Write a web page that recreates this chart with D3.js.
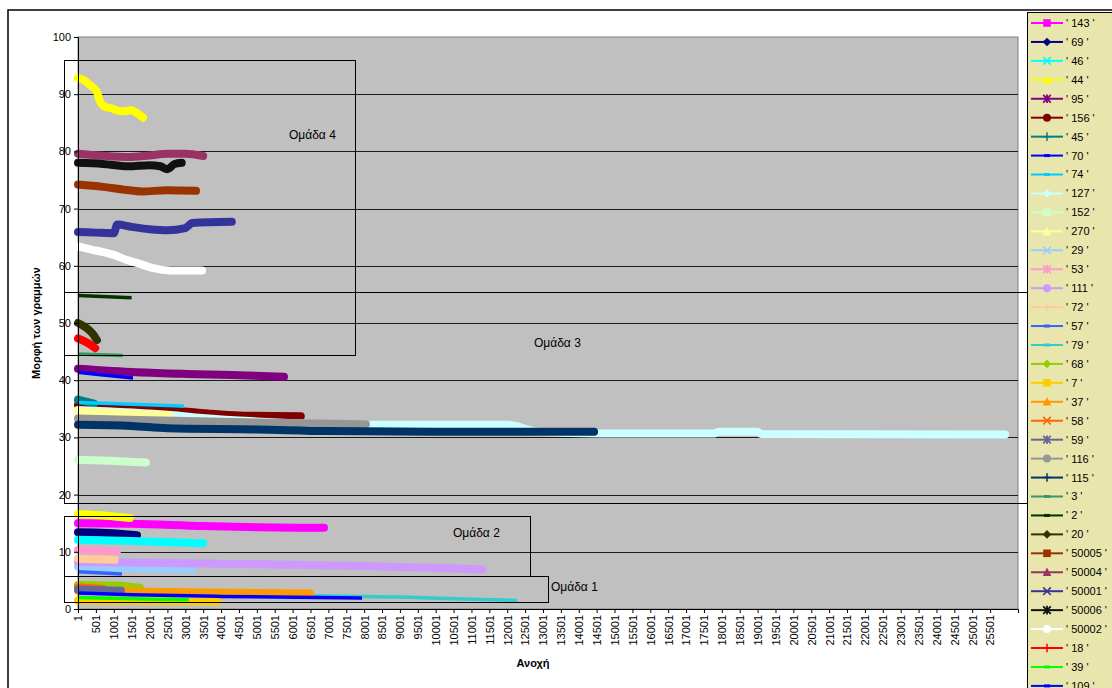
<!DOCTYPE html>
<html>
<head>
<meta charset="utf-8">
<script src="https://cdn.jsdelivr.net/npm/d3@7"></script>
<style>
  html, body { margin: 0; padding: 0; background: #fff; overflow: hidden; }
  svg { display: block; font-family: Arial, "Liberation Sans", sans-serif; }
</style>
</head>
<body>
<svg id="chart" width="1112" height="688"></svg>
<script>
// Series labels, in legend order
const seriesLabels = ["143","69","46","44","95","156","45","70","74","127","152","270",
  "29","53","111","72","57","79","68","7","37","58","59","116","115","3","2","20",
  "50005","50004","50001","50006","50002","18","39","109","110"];

// Each series: [tolerance, value] readings
const seriesValues = [
  [[1,15.0],[1500,14.9],[3500,14.5],[5000,14.3],[6880,14.2]],                       // 143
  [[1,13.4],[800,13.3],[1650,12.9]],                                                   // 69
  [[1,12.1],[1500,11.9],[3500,11.5]],                                                  // 46
  [[1,92.8],[150,92.5],[335,91.6],[531,90.4],[600,89.0],[755,87.8],[900,87.6],
   [1230,87.0],[1500,87.2],[1650,86.7],[1817,85.9]],                                   // 44
  [[1,42.0],[1635,41.4],[3020,41.1],[4300,40.9],[5760,40.6]],                          // 95
  [[1,35.7],[1635,35.1],[3240,34.4],[4000,34.0],[4640,33.8],[6230,33.7]],              // 156
  [[1,36.6],[450,35.9]],                                                               // 45
  [[1,41.4],[700,40.9],[1540,40.4]],                                                   // 70
  [[1,36.1],[1500,35.8],[2960,35.5]],                                                  // 74
  [[1,34.8],[2600,33.9],[3470,33.4],[5000,32.8],[8050,32.2],[12020,32.2],[12860,31.0],
   [14600,30.7],[17800,30.7],[17900,31.0],[19000,31.0],[19100,30.6],[25920,30.5]],     // 127
  [[1,26.1],[900,25.9],[1900,25.6]],                                                   // 152
  [[1,34.6],[1200,34.2],[2540,33.9]],                                                  // 270
  [[1,7.4],[3190,6.9]],                                                                // 29
  [[1,10.3],[1090,10.1]],                                                              // 53
  [[1,8.2],[2000,8.1],[5480,7.8],[8000,7.5],[10000,7.2],[11300,6.9]],                  // 111
  [[1,8.8],[1030,8.6]],                                                                // 72
  [[1,6.5],[1230,6.1]],                                                                // 57
  [[1,2.9],[3000,2.6],[6500,2.3],[9000,2.1],[10500,1.8],[12270,1.5]],                  // 79
  [[1,4.2],[1000,4.1],[1730,3.7]],                                                     // 68
  [[1,1.5],[2000,1.4],[3900,1.3]],                                                     // 7
  [[1,3.2],[2000,3.0],[3500,2.9],[6490,2.7]],                                          // 37
  [[1,3.8],[700,3.5]],                                                                 // 58
  [[1,3.4],[1200,3.2]],                                                                // 59
  [[1,33.3],[2000,33.0],[5000,32.6],[8050,32.3]],                                      // 116
  [[1,32.2],[1500,32.0],[2500,31.6],[5000,31.4],[7000,31.1],[10000,31.0],[14430,31.0]],// 115
  [[1,44.6],[1250,44.3]],                                                              // 3
  [[1,54.8],[1500,54.4]],                                                              // 2
  [[1,50.0],[200,49.3],[400,48.2],[530,47.0]],                                         // 20
  [[1,74.2],[700,73.8],[1300,73.3],[1800,73.0],[2500,73.2],[3300,73.1]],               // 50005
  [[1,79.6],[600,79.3],[1400,79.0],[2000,79.3],[2500,79.6],[3000,79.6],[3500,79.2]],   // 50004
  [[1,65.9],[500,65.8],[1000,65.7],[1100,67.2],[1500,66.8],[2000,66.4],[2500,66.2],
   [3000,66.6],[3200,67.5],[4300,67.7]],                                               // 50001
  [[1,78.0],[700,77.8],[1400,77.4],[2000,77.6],[2300,77.4],[2500,76.9],[2700,77.8],
   [2900,78.0]],                                                                       // 50006
  [[1,63.4],[400,62.8],[700,62.4],[1000,61.9],[1370,61.0],[1700,60.4],[2100,59.6],
   [2600,59.2],[3470,59.2]],                                                           // 50002
  [[1,47.3],[250,46.6],[480,45.6]],                                                    // 18
  [[1,2.0],[1500,1.8],[3100,1.6]],                                                     // 39
  [[1,2.8],[1500,2.5],[4000,2.2],[7940,1.9]],                                          // 109
  [[1,16.6],[800,16.3],[1450,15.9]]                                                    // 110
];

// Category tick labels on the tolerance axis
const xTickLabels = d3.range(1, 25502, 500);
const yTickLabels = d3.range(0, 101, 10);

// Group frames and their captions
const groupNames = ["Ομάδα 4", "Ομάδα 3", "Ομάδα 2", "Ομάδα 1"];

// Styling
const seriesColors = ["#FF00FF","#000080","#00FFFF","#FFFF00","#800080","#800000","#008080",
  "#0000FF","#00CCFF","#CCFFFF","#CCFFCC","#FFFF99","#99CCFF","#FF99CC","#CC99FF","#FFCC99",
  "#3366FF","#33CCCC","#99CC00","#FFCC00","#FF9900","#FF6600","#666699","#969696","#003366",
  "#339966","#003300","#333300","#993300","#993366","#333399","#111111","#FFFFFF","#FF0000",
  "#00FF00","#0000FF","#FFFF00"];
const seriesMarkers = ["square","diamond","x","triangle","star","circle","plus","dash","dash",
  "diamond","square","triangle","x","star","circle","plus","dash","dash","diamond","square",
  "triangle","x","star","circle","plus","dash","dash","diamond","square","triangle","x","star",
  "circle","plus","dash","dash","diamond"];

const svg = d3.select("#chart");
const plot = { left: 78, top: 37, right: 1018, bottom: 609 };

const x = d3.scaleLinear().domain([1, 26281]).range([plot.left, plot.right]);
const y = d3.scaleLinear().domain([0, 100]).range([plot.bottom, plot.top]);

// Outer chart frame
svg.append("rect").attr("x", 8).attr("y", 10).attr("width", 1120).attr("height", 700)
  .attr("fill", "#fff").attr("stroke", "#000").attr("stroke-width", 1.5);

// Plot area
svg.append("rect").attr("x", plot.left).attr("y", plot.top)
  .attr("width", plot.right - plot.left).attr("height", plot.bottom - plot.top)
  .attr("fill", "#C0C0C0").attr("stroke", "#808080").attr("stroke-width", 1);

// Horizontal gridlines
svg.append("g").selectAll("line").data(yTickLabels.filter(d => d > 0 && d < 100)).join("line")
  .attr("x1", plot.left).attr("x2", plot.right)
  .attr("y1", d => Math.round(y(d)) + 0.5).attr("y2", d => Math.round(y(d)) + 0.5)
  .attr("stroke", "#1a1a1a").attr("stroke-width", 1);

// Series lines
const line = d3.line().x(d => x(d[0])).y(d => y(d[1])).curve(d3.curveMonotoneX);
const lines = svg.append("g").attr("fill", "none");
seriesValues.forEach((vals, i) => {
  const thin = seriesMarkers[i] === "dash";
  lines.append("path")
    .attr("d", line(vals))
    .attr("stroke", seriesColors[i])
    .attr("stroke-width", thin ? 3.5 : 8)
    .attr("stroke-linecap", thin ? "butt" : "round")
    .attr("stroke-linejoin", "round");
});

// Axes
const yAxis = svg.append("g").attr("transform", `translate(${plot.left},0)`)
  .call(d3.axisLeft(y).tickValues(yTickLabels).tickSize(4).tickPadding(3));
const xAxis = svg.append("g").attr("transform", `translate(0,${plot.bottom})`)
  .call(d3.axisBottom(x).tickValues(xTickLabels).tickSize(4).tickFormat(d3.format("d")));
[yAxis, xAxis].forEach(g => {
  g.select(".domain").attr("stroke", "#000");
  g.selectAll(".tick line").attr("stroke", "#000");
  g.selectAll("text").attr("font-size", 11).attr("fill", "#000")
    .attr("font-family", "Arial, 'Liberation Sans', sans-serif");
});
xAxis.selectAll(".tick text")
  .attr("transform", "rotate(-90)")
  .attr("text-anchor", "end")
  .attr("x", -6).attr("y", 0).attr("dy", "0.35em");

// Axis titles
svg.append("text").attr("x", 533).attr("y", 667).attr("text-anchor", "middle")
  .attr("font-size", 11).attr("font-weight", "bold").text("Ανοχή");
svg.append("text").attr("transform", "translate(40,323) rotate(-90)").attr("text-anchor", "middle")
  .attr("font-size", 11).attr("font-weight", "bold").text("Μορφή των γραμμών");

// Group frames (value ranges in chart units)
const groupFrames = [
  { x0: -390, x1: 7745,  y0: 44.4, y1: 96.0, lx: 289,  ly: 139 },
  { x0: -390, x1: 26814, y0: 18.6, y1: 55.4, lx: 534,  ly: 347 },
  { x0: -390, x1: 12640, y0: 5.8,  y1: 16.3, lx: 453,  ly: 537 },
  { x0: -390, x1: 13140, y0: 1.2,  y1: 5.8,  lx: 551,  ly: 591 }
];
const frames = svg.append("g");
groupFrames.forEach((f, i) => {
  const px0 = Math.round(x(f.x0)) + 0.5, px1 = Math.round(x(f.x1)) + 0.5;
  const py0 = Math.round(y(f.y1)) + 0.5, py1 = Math.round(y(f.y0)) + 0.5;
  frames.append("rect").attr("x", px0).attr("y", py0)
    .attr("width", px1 - px0).attr("height", py1 - py0)
    .attr("fill", "none").attr("stroke", "#000").attr("stroke-width", 1);
  frames.append("text").attr("x", f.lx).attr("y", f.ly).attr("font-size", 12)
    .attr("fill", "#000").text(groupNames[i]);
});

// Legend
const legend = svg.append("g");
legend.append("rect").attr("x", 1027.5).attr("y", 12.5).attr("width", 100).attr("height", 720)
  .attr("fill", "#E8E6AC").attr("stroke", "#000").attr("stroke-width", 1);

function drawMarker(g, shape, color, cx, cy) {
  const s = 3.8;
  switch (shape) {
    case "square":
      g.append("rect").attr("x", cx - s).attr("y", cy - s).attr("width", 2 * s).attr("height", 2 * s)
        .attr("fill", color); break;
    case "diamond":
      g.append("path").attr("d", `M${cx},${cy - s - 0.5}L${cx + s + 0.5},${cy}L${cx},${cy + s + 0.5}L${cx - s - 0.5},${cy}Z`)
        .attr("fill", color); break;
    case "triangle":
      g.append("path").attr("d", `M${cx},${cy - s - 1}L${cx + s + 0.5},${cy + s}L${cx - s - 0.5},${cy + s}Z`)
        .attr("fill", color); break;
    case "circle":
      g.append("circle").attr("cx", cx).attr("cy", cy).attr("r", s + 0.2).attr("fill", color); break;
    case "x":
      g.append("path").attr("d", `M${cx - s},${cy - s}L${cx + s},${cy + s}M${cx - s},${cy + s}L${cx + s},${cy - s}`)
        .attr("stroke", color).attr("stroke-width", 1.6); break;
    case "star":
      g.append("path").attr("d", `M${cx - s},${cy - s}L${cx + s},${cy + s}M${cx - s},${cy + s}L${cx + s},${cy - s}M${cx},${cy - s - 0.5}L${cx},${cy + s + 0.5}`)
        .attr("stroke", color).attr("stroke-width", 1.8); break;
    case "plus":
      g.append("path").attr("d", `M${cx},${cy - s - 0.5}L${cx},${cy + s + 0.5}M${cx - s},${cy}L${cx + s},${cy}`)
        .attr("stroke", color).attr("stroke-width", 1.5); break;
    case "dash":
      g.append("rect").attr("x", cx - 3).attr("y", cy - 1.5).attr("width", 6).attr("height", 3)
        .attr("fill", color); break;
  }
}

seriesLabels.forEach((name, i) => {
  const cy = 23 + i * 18.94;
  const g = legend.append("g");
  g.append("line").attr("x1", 1031).attr("x2", 1063).attr("y1", cy).attr("y2", cy)
    .attr("stroke", seriesColors[i]).attr("stroke-width", 2);
  drawMarker(g, seriesMarkers[i], seriesColors[i], 1047, cy);
  g.append("text").attr("x", 1066).attr("y", cy).attr("dy", "0.36em").attr("font-size", 11)
    .attr("fill", "#000").text(`' ${name} '`);
});
</script>
</body>
</html>
